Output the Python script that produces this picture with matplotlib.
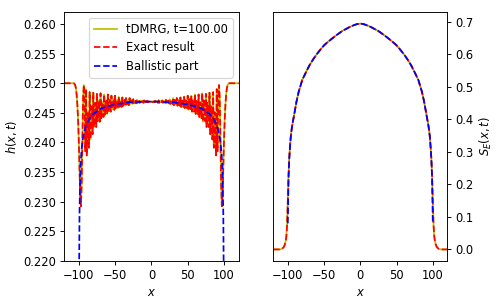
import numpy as np
import matplotlib
matplotlib.use("Agg")
import matplotlib.pyplot as plt

# ---- data ----
sites = np.arange(-120, 121)

# h(x,t) from tDMRG, one value per site (x = -120 ... 120)
h_tdmrg = [
    0.2500, 0.2500, 0.2500, 0.2500, 0.2500, 0.2500, 0.2500, 0.2500, 0.2500, 0.2500,
    0.2500, 0.2500, 0.2500, 0.2500, 0.2499, 0.2497, 0.2492, 0.2482, 0.2465, 0.2440,
    0.2405, 0.2360, 0.2310, 0.2292, 0.2330, 0.2410, 0.2478, 0.2497, 0.2462, 0.2385,
    0.2490, 0.2378, 0.2446, 0.2451, 0.2391, 0.2485, 0.2405, 0.2451, 0.2461, 0.2414,
    0.2484, 0.2426, 0.2456, 0.2467, 0.2426, 0.2482, 0.2436, 0.2458, 0.2471, 0.2435,
    0.2483, 0.2441, 0.2466, 0.2468, 0.2443, 0.2481, 0.2447, 0.2466, 0.2470, 0.2448,
    0.2481, 0.2452, 0.2467, 0.2472, 0.2452, 0.2479, 0.2456, 0.2467, 0.2473, 0.2455,
    0.2479, 0.2458, 0.2470, 0.2471, 0.2458, 0.2477, 0.2460, 0.2469, 0.2471, 0.2460,
    0.2476, 0.2462, 0.2469, 0.2472, 0.2462, 0.2475, 0.2464, 0.2469, 0.2472, 0.2463,
    0.2475, 0.2465, 0.2470, 0.2471, 0.2465, 0.2473, 0.2466, 0.2470, 0.2470, 0.2466,
    0.2472, 0.2467, 0.2469, 0.2470, 0.2467, 0.2471, 0.2468, 0.2469, 0.2470, 0.2467,
    0.2471, 0.2467, 0.2469, 0.2470, 0.2468, 0.2470, 0.2468, 0.2469, 0.2469, 0.2468,
    0.2469,
    0.2468, 0.2469, 0.2469, 0.2468, 0.2470, 0.2468, 0.2470, 0.2469, 0.2467, 0.2471,
    0.2467, 0.2470, 0.2469, 0.2468, 0.2471, 0.2467, 0.2470, 0.2469, 0.2467, 0.2472,
    0.2466, 0.2470, 0.2470, 0.2466, 0.2473, 0.2465, 0.2471, 0.2470, 0.2465, 0.2475,
    0.2463, 0.2472, 0.2469, 0.2464, 0.2475, 0.2462, 0.2472, 0.2469, 0.2462, 0.2476,
    0.2460, 0.2471, 0.2469, 0.2460, 0.2477, 0.2458, 0.2471, 0.2470, 0.2458, 0.2479,
    0.2455, 0.2473, 0.2467, 0.2456, 0.2479, 0.2452, 0.2472, 0.2467, 0.2452, 0.2481,
    0.2448, 0.2470, 0.2466, 0.2447, 0.2481, 0.2443, 0.2468, 0.2466, 0.2441, 0.2483,
    0.2435, 0.2471, 0.2458, 0.2436, 0.2482, 0.2426, 0.2467, 0.2456, 0.2426, 0.2484,
    0.2414, 0.2461, 0.2451, 0.2405, 0.2485, 0.2391, 0.2451, 0.2446, 0.2378, 0.2490,
    0.2385, 0.2462, 0.2497, 0.2478, 0.2410, 0.2330, 0.2292, 0.2310, 0.2360, 0.2405,
    0.2440, 0.2465, 0.2482, 0.2492, 0.2497, 0.2499, 0.2500, 0.2500, 0.2500, 0.2500,
    0.2500, 0.2500, 0.2500, 0.2500, 0.2500, 0.2500, 0.2500, 0.2500, 0.2500, 0.2500,
]
h_exact = h_tdmrg  # exact curve sits on top of the tDMRG one

# ballistic part of h (only inside the light cone |x| < t)
x_ball = [-99.8, -99.5, -99, -98, -97, -96, -95, -93, -90, -85, -80, -70, -60, -50,
          -40, -30, -20, -10, 0, 10, 20, 30, 40, 50, 60, 70, 80, 85, 90, 93, 95, 96,
          97, 98, 99, 99.5, 99.8]
h_ball = [0.2010, 0.2190, 0.2280, 0.2344, 0.2373, 0.2389, 0.2401, 0.2416, 0.2429,
          0.2441, 0.2448, 0.2457, 0.2461, 0.2464, 0.2466, 0.2468, 0.2468, 0.2469,
          0.2469, 0.2469, 0.2468, 0.2468, 0.2466, 0.2464, 0.2461, 0.2457, 0.2448,
          0.2441, 0.2429, 0.2416, 0.2401, 0.2389, 0.2373, 0.2344, 0.2280, 0.2190,
          0.2010]

# entanglement entropy S_E(x,t)
x_s = [-120, -115, -112, -110, -108, -106, -105, -104, -103, -102, -101, -100, -99,
       -98, -97, -96, -95, -94, -93, -92, -90, -88, -85, -80, -75, -70, -65, -60,
       -55, -50, -45, -40, -35, -30, -25, -20, -15, -10, -5, 0, 5, 10, 15, 20, 25,
       30, 35, 40, 45, 50, 55, 60, 65, 70, 75, 80, 85, 88, 90, 92, 93, 94, 95, 96,
       97, 98, 99, 100, 101, 102, 103, 104, 105, 106, 108, 110, 112, 115, 120]
s_tdmrg = [0.0, 0.0, 0.0, 0.0005, 0.002, 0.006, 0.010, 0.016, 0.025, 0.040, 0.075,
           0.150, 0.227, 0.280, 0.315, 0.345, 0.365, 0.380, 0.393, 0.405, 0.430,
           0.455, 0.485, 0.522, 0.545, 0.567, 0.585, 0.601, 0.615, 0.628, 0.638,
           0.647, 0.656, 0.664, 0.672, 0.678, 0.684, 0.689, 0.693, 0.695, 0.693,
           0.689, 0.684, 0.678, 0.672, 0.664, 0.656, 0.647, 0.638, 0.628, 0.615,
           0.601, 0.585, 0.567, 0.545, 0.522, 0.485, 0.455, 0.430, 0.405, 0.393,
           0.380, 0.365, 0.345, 0.315, 0.280, 0.227, 0.150, 0.075, 0.040, 0.025,
           0.016, 0.010, 0.006, 0.002, 0.0005, 0.0, 0.0, 0.0]
s_exact = s_tdmrg

x_sball = [-100, -99, -98, -97, -96, -95, -94, -93, -92, -90, -88, -85, -80, -75,
           -70, -65, -60, -55, -50, -45, -40, -35, -30, -25, -20, -15, -10, -5, 0,
           5, 10, 15, 20, 25, 30, 35, 40, 45, 50, 55, 60, 65, 70, 75, 80, 85, 88,
           90, 92, 93, 94, 95, 96, 97, 98, 99, 100]
s_ball = [0.080, 0.220, 0.278, 0.314, 0.344, 0.364, 0.380, 0.393, 0.405, 0.430,
          0.455, 0.485, 0.522, 0.545, 0.567, 0.585, 0.601, 0.615, 0.628, 0.638,
          0.647, 0.656, 0.664, 0.672, 0.678, 0.684, 0.689, 0.693, 0.695, 0.693,
          0.689, 0.684, 0.678, 0.672, 0.664, 0.656, 0.647, 0.638, 0.628, 0.615,
          0.601, 0.585, 0.567, 0.545, 0.522, 0.485, 0.455, 0.430, 0.405, 0.393,
          0.380, 0.364, 0.344, 0.314, 0.278, 0.220, 0.080]

t_label = "tDMRG, t=100.00"

# ---- figure ----
fig = plt.figure(figsize=(6.0, 3.663), dpi=83)
ax1 = fig.add_axes([0.129, 0.1424, 0.350, 0.8171])
ax2 = fig.add_axes([0.5488, 0.1424, 0.3494, 0.8171])

# left: magnetisation profile
ax1.plot(sites, h_tdmrg, color="y", label=t_label)
ax1.plot(sites, h_exact, "r--", label="Exact result")
ax1.plot(x_ball, h_ball, "b--", label="Ballistic part")
ax1.set_xlim(-120, 120)
ax1.set_ylim(0.220, 0.262)
ax1.set_yticks(np.arange(0.220, 0.2601, 0.005))
ax1.set_xlabel("$x$")
ax1.set_ylabel("$h(x,t)$")
ax1.legend(loc="upper right")

# right: entanglement entropy
ax2.plot(x_s, s_tdmrg, color="y")
ax2.plot(x_s, s_exact, "r--")
ax2.plot(x_sball, s_ball, "b--")
ax2.set_xlim(-120, 120)
ax2.yaxis.tick_right()
ax2.yaxis.set_label_position("right")
ax2.set_xlabel("$x$")
ax2.set_ylabel("$S_E(x,t)$")

fig.savefig("out.png", dpi=83)
